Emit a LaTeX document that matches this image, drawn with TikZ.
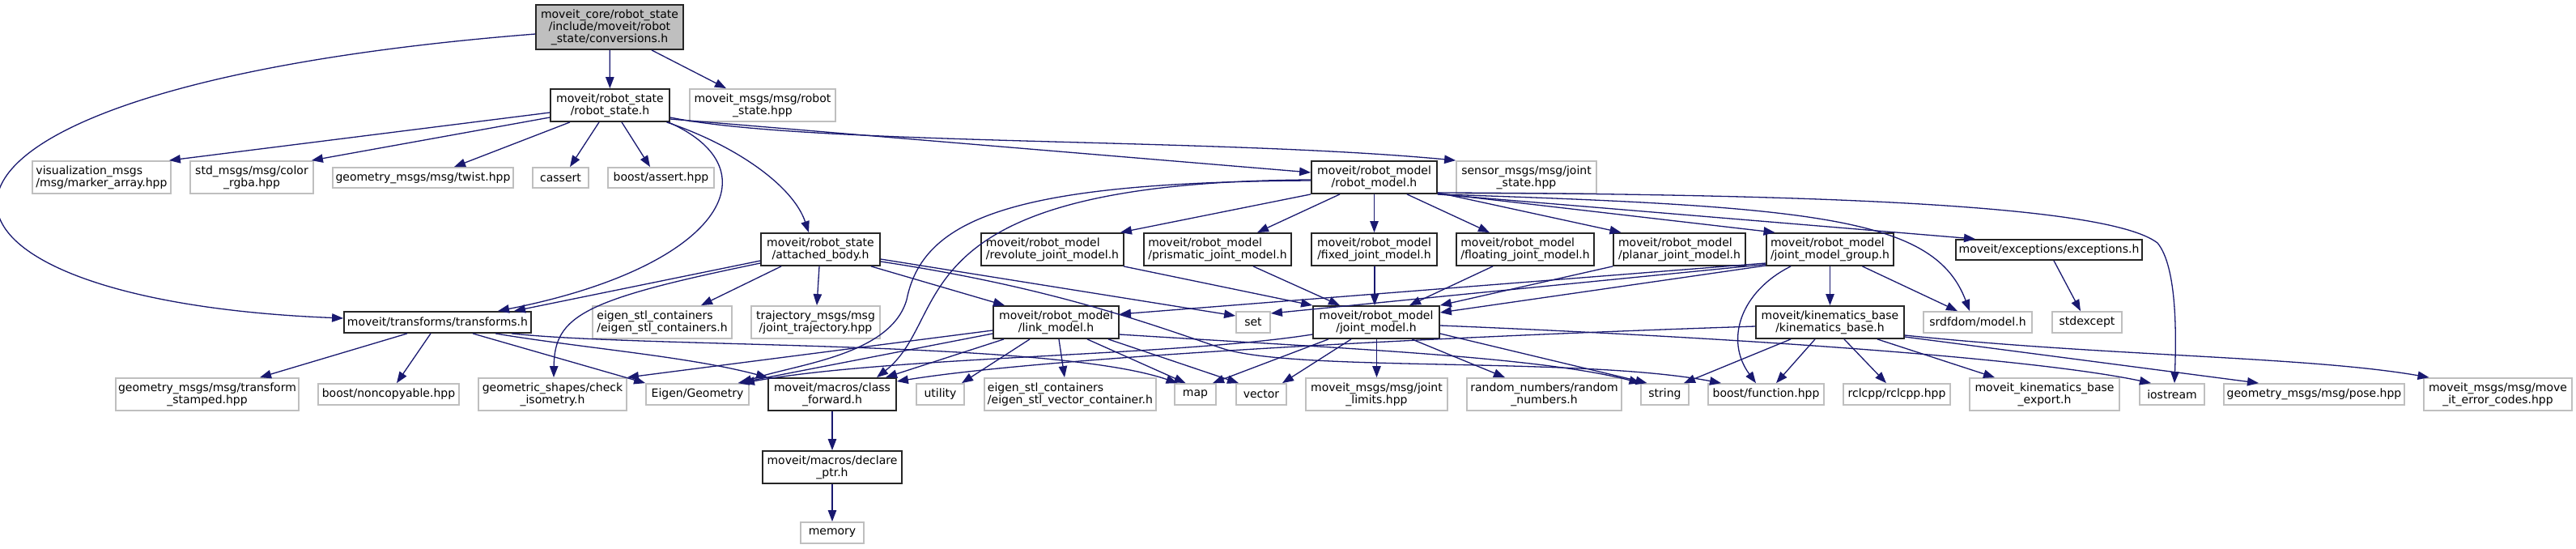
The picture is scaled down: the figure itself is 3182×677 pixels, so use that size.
\documentclass[tikz,border=0pt]{standalone}
\usepackage{fontspec}
\setmainfont{DejaVu Sans}
\usetikzlibrary{arrows.meta,calc}
\definecolor{edgeblue}{HTML}{191970}
\definecolor{leafgray}{HTML}{BFBFBF}
\definecolor{rootfill}{HTML}{BFBFBF}
\tikzset{
  box/.style={draw, line width=0.9pt, inner sep=0pt, align=center,
    font=\fontsize{7pt}{7.5pt}\selectfont},
  leaf/.style={box, draw=leafgray},
  hdr/.style={box, draw=black!85},
  root/.style={box, draw=black!85, fill=rootfill},
  ed/.style={draw=edgeblue, line width=0.65pt, -{Triangle[length=7pt,width=5.2pt]}, fill=none},
  two/.style={minimum height=20pt},
  one/.style={minimum height=13pt},
  lft/.style={align=left}
}
\begin{document}
\begin{tikzpicture}[x=0.5pt,y=-0.5pt]
\useasboundingbox[fill=white] (0,0) rectangle (3182,677);
% row 0
\node[root, minimum width=91pt, minimum height=27.5pt] (conv) at (753,33.5) {moveit\_core/robot\_state\\/include/moveit/robot\\\_state/conversions.h};
% row 1
\node[hdr, two, minimum width=73.5pt] (rs) at (753.5,130) {moveit/robot\_state\\/robot\_state.h};
\node[leaf, two, minimum width=90pt] (rsmsg) at (942,130) {moveit\_msgs/msg/robot\\\_state.hpp};
% row 2
\node[leaf, two, lft, minimum width=85.5pt] (vis) at (125.5,219) {visualization\_msgs\\/msg/marker\_array.hpp};
\node[leaf, two, minimum width=76pt] (stdc) at (311,219) {std\_msgs/msg/color\\\_rgba.hpp};
\node[leaf, minimum height=12.5pt, minimum width=111.5pt] (twist) at (522.5,219.5) {geometry\_msgs/msg/twist.hpp};
\node[leaf, minimum height=12.5pt, minimum width=34.5pt] (cassert) at (692.5,219.5) {cassert};
\node[leaf, minimum height=12.5pt, minimum width=65.5pt] (bassert) at (816.5,219.5) {boost/assert.hpp};
\node[hdr, two, minimum width=77.5pt] (rm) at (1697.5,219) {moveit/robot\_model\\/robot\_model.h};
\node[leaf, two, minimum width=86.5pt] (sensor) at (1885.5,219) {sensor\_msgs/msg/joint\\\_state.hpp};
% row 3
\node[hdr, two, minimum width=73.5pt] (ab) at (1013.5,308) {moveit/robot\_state\\/attached\_body.h};
\node[hdr, two, lft, minimum width=88pt] (rev) at (1300,308) {moveit/robot\_model\\/revolute\_joint\_model.h};
\node[hdr, two, lft, minimum width=91pt] (pris) at (1504,308) {moveit/robot\_model\\/prismatic\_joint\_model.h};
\node[hdr, two, minimum width=77.5pt] (fixed) at (1697.5,308) {moveit/robot\_model\\/fixed\_joint\_model.h};
\node[hdr, two, lft, minimum width=85pt] (float) at (1884,308) {moveit/robot\_model\\/floating\_joint\_model.h};
\node[hdr, two, lft, minimum width=81.5pt] (planar) at (2074.5,308) {moveit/robot\_model\\/planar\_joint\_model.h};
\node[hdr, two, lft, minimum width=78.5pt] (jmg) at (2260.5,308) {moveit/robot\_model\\/joint\_model\_group.h};
\node[hdr, minimum height=12.5pt, minimum width=115pt] (exc) at (2531,308.5) {moveit/exceptions/exceptions.h};
% row 4
\node[hdr, one, minimum width=115.5pt] (tf) at (540.5,398) {moveit/transforms/transforms.h};
\node[leaf, two, lft, minimum width=86pt] (esc) at (818,398) {eigen\_stl\_containers\\/eigen\_stl\_containers.h};
\node[leaf, two, minimum width=79.5pt] (traj) at (1007.5,398) {trajectory\_msgs/msg\\/joint\_trajectory.hpp};
\node[hdr, two, minimum width=77.5pt] (lm) at (1304.5,398) {moveit/robot\_model\\/link\_model.h};
\node[leaf, one, minimum width=21pt] (set) at (1548,398) {set};
\node[hdr, two, minimum width=78pt] (jm) at (1700,398) {moveit/robot\_model\\/joint\_model.h};
\node[hdr, two, minimum width=91.5pt] (kb) at (2260.5,398) {moveit/kinematics\_base\\/kinematics\_base.h};
\node[leaf, one, minimum width=67pt] (srdf) at (2443,398) {srdfdom/model.h};
\node[leaf, one, minimum width=43pt] (stdexc) at (2578,398) {stdexcept};
% row 5
\node[leaf, two, minimum width=113pt] (tfst) at (256,487) {geometry\_msgs/msg/transform\\\_stamped.hpp};
\node[leaf, one, minimum width=87pt] (noncopy) at (480,487) {boost/noncopyable.hpp};
\node[leaf, two, minimum width=91.5pt] (iso) at (682.5,487) {geometric\_shapes/check\\\_isometry.h};
\node[leaf, one, minimum width=63.5pt] (eigen) at (861.5,487) {Eigen/Geometry};
\node[hdr, two, minimum width=79pt] (cf) at (1028,487) {moveit/macros/class\\\_forward.h};
\node[leaf, one, minimum width=29.5pt] (utility) at (1161.5,487) {utility};
\node[leaf, two, lft, minimum width=106pt] (esvc) at (1322,487) {eigen\_stl\_containers\\/eigen\_stl\_vector\_container.h};
\node[leaf, one, minimum width=25.5pt] (map) at (1476.5,487) {map};
\node[leaf, one, minimum width=31pt] (vector) at (1558,487) {vector};
\node[leaf, two, minimum width=87.5pt] (jl) at (1700.5,487) {moveit\_msgs/msg/joint\\\_limits.hpp};
\node[leaf, two, minimum width=95.5pt] (rn) at (1907.5,487) {random\_numbers/random\\\_numbers.h};
\node[leaf, one, minimum width=29.5pt] (string) at (2056.5,487) {string};
\node[leaf, one, minimum width=71.5pt] (bfunc) at (2181.5,487) {boost/function.hpp};
\node[leaf, one, minimum width=66pt] (rclcpp) at (2343,487) {rclcpp/rclcpp.hpp};
\node[leaf, two, minimum width=92.5pt] (kbexp) at (2525.5,487) {moveit\_kinematics\_base\\\_export.h};
\node[leaf, one, minimum width=40pt] (iostream) at (2683,487) {iostream};
\node[leaf, one, minimum width=111.5pt] (pose) at (2858.5,487) {geometry\_msgs/msg/pose.hpp};
\node[leaf, two, minimum width=91.5pt] (errc) at (3085.5,487) {moveit\_msgs/msg/move\\\_it\_error\_codes.hpp};
% rows 6,7
\node[hdr, two, minimum width=86pt] (dp) at (1028,577) {moveit/macros/declare\\\_ptr.h};
\node[leaf, one, minimum width=39pt] (memory) at (1028,658) {memory};

% ---- edges: conversions.h
\draw[ed] (conv) -- (rs);
\draw[ed] ($(conv.south)+(52,0)$) -- ($(rsmsg.north)+(-45,0)$);
\draw[ed] ($(conv.west)+(0,8.5)$) .. controls (-200,110) and (-160,370) .. ($(tf.west)+(0,-5)$);
% robot_state.h
\draw[ed] ($(rs.west)+(0,9)$) -- ($(vis.north east)+(-3,0)$);
\draw[ed] ($(rs.west)+(0,15)$) -- ($(stdc.north east)+(-3,0)$);
\draw[ed] ($(rs.south)+(-49.5,0)$) -- ($(twist.north)+(38.5,0)$);
\draw[ed] ($(rs.south)+(-13.5,0)$) -- ($(cassert.north)+(11.5,0)$);
\draw[ed] ($(rs.south)+(14.5,0)$) -- ($(bassert.north)+(-13.5,0)$);
\draw[ed] ($(rs.east)+(0,17)$) -- ($(rm.west)+(0,-6)$);
\draw[ed] ($(rs.east)+(0,15)$) .. controls (1000,180) and (1500,170) .. (sensor.north west);
\draw[ed] ($(rs.south)+(70,0)$) .. controls (910,180) and (980,230) .. ($(ab.north)+(-14.5,0)$);
\draw[ed] ($(rs.south)+(72,0)$) .. controls (960,210) and (890,330) .. ($(tf.north)+(74.5,0)$);
% attached_body.h
\draw[ed] ($(ab.west)+(0,14)$) -- ($(tf.north)+(94.5,0)$);
\draw[ed] ($(ab.west)+(0,17)$) .. controls (720,370) and (685,390) .. ($(iso.north)+(1.5,0)$);
\draw[ed] ($(ab.south)+(-48.5,0)$) -- ($(esc.north)+(48,0)$);
\draw[ed] ($(ab.south)+(-1.5,0)$) -- ($(traj.north)+(1.5,0)$);
\draw[ed] ($(ab.south)+(62.5,0)$) -- ($(lm.north)+(-63.5,0)$);
\draw[ed] ($(ab.east)+(0,12)$) -- ($(set.west)+(0,-8)$);
\draw[ed] ($(ab.east)+(0,15)$) .. controls (1300,355) and (1420,400) .. (1509,430) .. controls (1600,460) and (1950,440) .. ($(bfunc.north)+(-55.5,0)$);
% robot_model.h
\draw[ed] (rm.south west) -- ($(rev.north east)+(-5,0)$);
\draw[ed] ($(rm.south)+(-42.5,0)$) -- ($(pris.north)+(49,0)$);
\draw[ed] (rm) -- (fixed);
\draw[ed] ($(rm.south)+(40.5,0)$) -- ($(float.north)+(-44,0)$);
\draw[ed] ($(rm.south east)+(0,-2)$) -- ($(planar.north)+(-72,0)$);
\draw[ed] ($(rm.south east)+(0,-1)$) -- ($(jmg.north)+(-68,0)$);
\draw[ed] (rm.south east) -- ($(exc.north)+(-91,0)$);
\draw[ed] (rm.south east) .. controls (2250,255) and (2390,270) .. ($(srdf.north)+(-10,0)$);
\draw[ed] ($(rm.south east)+(0,-2)$) .. controls (2200,240) and (2600,250) .. (2665,300) .. controls (2690,330) and (2688,420) .. ($(iostream.north)+(3,0)$);
\draw[ed] ($(rm.west)+(0,3)$) .. controls (1100,225) and (1180,390) .. ($(cf.north)+(55,0)$);
\draw[ed] ($(rm.west)+(0,4)$) .. controls (1250,225) and (1140,270) .. (1120,370) .. controls (1100,440) and (980,450) .. ($(eigen.north)+(53.5,0)$);
% joint model types
\draw[ed] ($(rev.south east)+(-1,0)$) -- (jm.north west);
\draw[ed] ($(pris.south)+(44,0)$) -- ($(jm.north)+(-45,0)$);
\draw[ed] ($(fixed.south)+(0.5,0)$) -- ($(jm.north)+(-2,0)$);
\draw[ed] ($(float.south)+(-40,0)$) -- ($(jm.north)+(41,0)$);
\draw[ed] (planar.south west) -- (jm.north east);
% joint_model_group.h
\draw[ed] ($(jmg.west)+(0,20)$) -- ($(jm.east)+(0,-12)$);
\draw[ed] ($(jmg.west)+(0,17)$) -- ($(lm.east)+(0,-10)$);
\draw[ed] ($(jmg.west)+(0,18.5)$) -- ($(set.east)+(0,-11)$);
\draw[ed] (jmg) -- (kb);
\draw[ed] ($(jmg.south)+(40,0)$) -- ($(srdf.north)+(-25,0)$);
\draw[ed] ($(jmg.south)+(-48.5,0)$) .. controls (2150,360) and (2130,420) .. ($(bfunc.north)+(-12.5,0)$);
% joint_model.h
\draw[ed] ($(jm.south)+(0.5,0)$) -- (jl.north);
\draw[ed] ($(jm.south)+(44,0)$) -- ($(rn.north)+(-48.5,0)$);
\draw[ed] ($(jm.south)+(-59,0)$) -- ($(map.north)+(21.5,0)$);
\draw[ed] ($(jm.south)+(-31,0)$) -- ($(vector.north)+(26,0)$);
\draw[ed] ($(jm.east)+(0,14)$) -- ($(string.north)+(-22,0)$);
\draw[ed] ($(jm.east)+(0,4)$) .. controls (2100,415) and (2500,440) .. ($(iostream.north)+(-26,0)$);
\draw[ed] ($(jm.west)+(0,15)$) .. controls (1450,440) and (1100,440) .. ($(eigen.north east)+(-8,0)$);
% kinematics_base.h
\draw[ed] ($(kb.west)+(0,5)$) .. controls (1800,415) and (1300,440) .. ($(cf.east)+(0,-16)$);
\draw[ed] ($(kb.south)+(-48.5,0)$) -- ($(string.north)+(23.5,0)$);
\draw[ed] ($(kb.south)+(-18.5,0)$) -- ($(bfunc.north)+(12.5,0)$);
\draw[ed] ($(kb.south)+(17.5,0)$) -- ($(rclcpp.north)+(-13,0)$);
\draw[ed] ($(kb.south)+(58.5,0)$) -- ($(kbexp.north)+(-61.5,0)$);
\draw[ed] ($(kb.east)+(0,18)$) -- ($(pose.north)+(-68.5,0)$);
\draw[ed] ($(kb.east)+(0,16)$) .. controls (2600,440) and (2850,440) .. ($(errc.north)+(-85,0)$);
% link_model.h
\draw[ed] ($(lm.west)+(0,10)$) -- (iso.north east);
\draw[ed] ($(lm.west)+(0,14)$) -- ($(eigen.north)+(50,0)$);
\draw[ed] ($(lm.south)+(-64.5,0)$) -- ($(cf.north)+(66,0)$);
\draw[ed] ($(lm.south)+(-32.5,0)$) -- ($(utility.north)+(26.5,0)$);
\draw[ed] ($(lm.south)+(3.5,0)$) -- ($(esvc.north)+(-7,0)$);
\draw[ed] ($(lm.south)+(38.5,0)$) -- ($(map.north)+(-12,0)$);
\draw[ed] ($(lm.south)+(64.5,0)$) -- ($(vector.north)+(-28,0)$);
\draw[ed] ($(lm.east)+(0,15)$) .. controls (1650,430) and (1900,440) .. ($(string.north)+(-30,0)$);
% transforms.h
\draw[ed] ($(tf.south)+(-37.5,0)$) -- ($(tfst.north)+(65,0)$);
\draw[ed] ($(tf.south)+(-8.5,0)$) -- ($(noncopy.north)+(10,0)$);
\draw[ed] ($(tf.south)+(43.5,0)$) -- (eigen.north west);
\draw[ed] ($(tf.south)+(71.5,0)$) .. controls (720,430) and (850,440) .. (cf.north west);
\draw[ed] ($(tf.south)+(91.5,0)$) .. controls (800,430) and (1300,420) .. ($(map.north)+(-22,0)$);
% macros, exceptions
\draw[ed] (cf) -- (dp);
\draw[ed] (dp) -- (memory);
\draw[ed] ($(exc.south)+(6,0)$) -- ($(stdexc.north)+(-8,0)$);
\end{tikzpicture}
\end{document}
